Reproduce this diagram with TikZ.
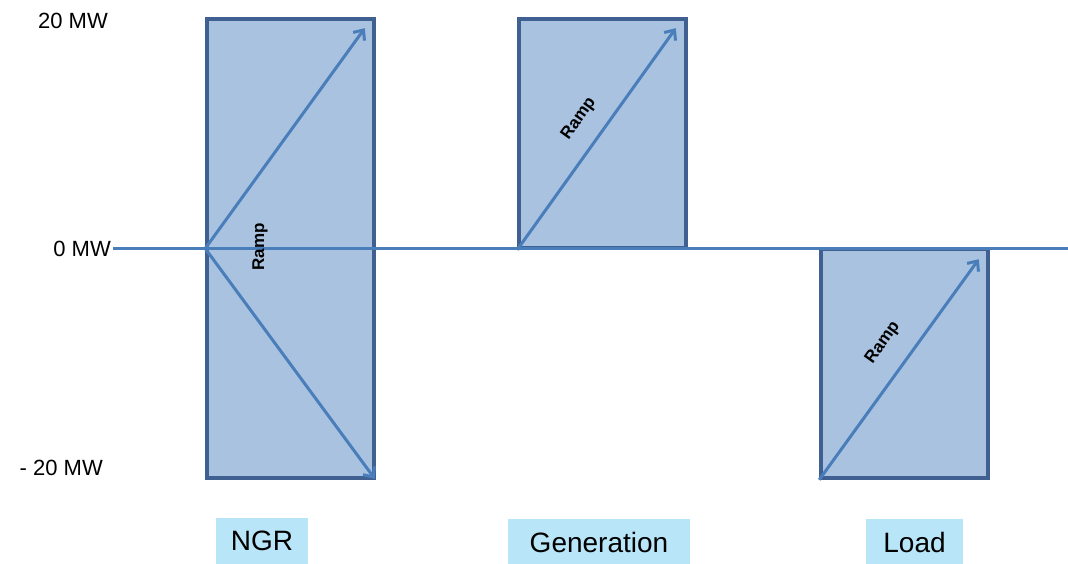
\documentclass[tikz,border=0pt]{standalone}
\usepackage{fontspec}
\setmainfont{Liberation Sans}
\usetikzlibrary{arrows.meta,positioning}

\definecolor{boxfill}{HTML}{A8C2E0}
\definecolor{boxedge}{HTML}{3F6090}
\definecolor{rampline}{HTML}{4A7EBB}
\definecolor{tagfill}{HTML}{B8E5F8}

\tikzset{
  powerbox/.style={draw=boxedge,fill=boxfill,line width=3.6pt,inner sep=0pt,minimum width=167pt},
  ramp/.style={draw=rampline,line width=3pt,-{Straight Barb[length=8pt,width=14pt]}},
  ramptext/.style={font=\fontsize{17}{19}\selectfont\bfseries,inner sep=0pt},
  level/.style={font=\fontsize{22}{25}\selectfont,anchor=east,inner sep=0pt},
  tag/.style={fill=tagfill,font=\fontsize{28}{31}\selectfont,inner sep=0pt,minimum height=47pt}
}

\begin{document}
\begin{tikzpicture}[x=1pt,y=-1pt]
        \useasboundingbox (0,0) rectangle (1068,564);

        % boxes
        \node[powerbox,minimum height=459pt] (ngr) at (290.5,248.5) {};
        \node[powerbox,minimum height=229pt] (gen) at (602.5,133.5) {};
        \node[powerbox,minimum height=229pt] (load) at (904.5,363.5) {};

        % zero line
        \coordinate (zero) at (113,248);
        \coordinate (zeroend) at (1068,248);
        \draw[rampline,line width=3pt] (zero) -- (zeroend);

        % ramps
        \draw[ramp] (ngr.west) -- ([xshift=-11pt,yshift=-11pt]ngr.north east);
        \draw[ramp] (ngr.west) -- ([xshift=-1pt,yshift=1pt]ngr.south east);
        \draw[ramp] (gen.south west) -- ([xshift=-12pt,yshift=-11pt]gen.north east);
        \draw[ramp] (load.south west) -- ([xshift=-11pt,yshift=-12pt]load.north east);

        \node[ramptext,rotate=90] (ngrramp) at (260,247) {Ramp};
        \node[ramptext,rotate=54.6] (genramp) at (579,119) {Ramp};
        \node[ramptext,rotate=54.6] (loadramp) at (883,343) {Ramp};

        % levels
        \node[level] (top) at (108,21) {20 MW};
        \node[level] (mid) at (111,249) {0 MW};
        \node[level] (bot) at (103,468) {- 20 MW};

        % tags
        \node[tag,minimum width=92pt] (ngrtag) at (262,541) {NGR};
        \node[tag,minimum width=182pt] (gentag) at (599,542) {Generation};
        \node[tag,minimum width=97pt] (loadtag) at (914.5,542) {Load};

        \end{tikzpicture}
\end{document}
